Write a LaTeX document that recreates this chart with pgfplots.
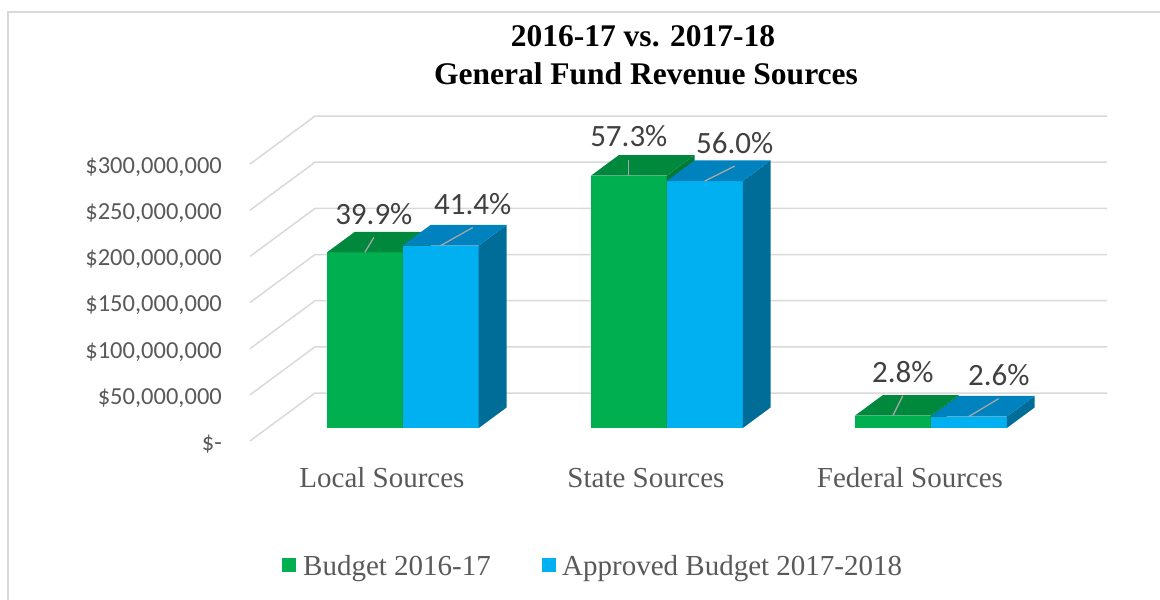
\documentclass[border=0pt]{standalone}
\usepackage{pgfplots}
\pgfplotsset{compat=1.18}
\usepackage{fontspec}
\setmainfont{Liberation Serif}
\newfontfamily\calib{Carlito}
\usetikzlibrary{calc}

\definecolor{gfront}{HTML}{00B050}
\definecolor{gtop}{HTML}{00883C}
\definecolor{gside}{HTML}{007A35}
\definecolor{bfront}{HTML}{00B0F0}
\definecolor{btop}{HTML}{0082BE}
\definecolor{bside}{HTML}{006D99}
\definecolor{gridc}{HTML}{D9D9D9}
\definecolor{txt}{HTML}{595959}
\definecolor{lbl}{HTML}{404040}
\definecolor{leader}{HTML}{A6A6A6}

% x-left, x-right, value, front, top, side
\newcommand{\cuboid}[6]{%
 \addplot3[fill=#4,draw=none] coordinates {(#1,0.27,0) (#2,0.27,0) (#2,0.27,#3) (#1,0.27,#3)};
 \addplot3[fill=#6,draw=none] coordinates {(#2,0.27,0) (#2,0.70,0) (#2,0.70,#3) (#2,0.27,#3)};
 \addplot3[fill=#5,draw=none] coordinates {(#1,0.27,#3) (#2,0.27,#3) (#2,0.70,#3) (#1,0.70,#3)};
}
\tikzset{
  ylab/.style={anchor=east, xshift=-28pt, yshift=-3pt, inner sep=0pt, text=txt, font={\calib\fontsize{24.5}{28}\selectfont}},
  dlab/.style={anchor=base, yshift=13pt, inner sep=0pt, text=lbl, font={\calib\fontsize{31}{36}\selectfont}},
  lead/.style={draw=leader, line width=1.3pt},
  gline/.style={draw=gridc, line width=1.5pt},
}

\begin{document}
\begin{tikzpicture}
\begin{axis}[
  hide axis, clip=false,
  x={(264pt,0pt)}, y={(65pt,48pt)}, z={(0pt,0.923pt)},
  xmin=0, xmax=3, ymin=0, ymax=1, zmin=0, zmax=300,
]
\coordinate (O) at (axis cs:0,0,0);
% gridlines (floor diagonal + back wall)
\pgfplotsinvokeforeach{0,50,100,150,200,250,300}{
  \draw[gline] (axis cs:0,0,#1) -- (axis cs:0,1,#1) -- (axis cs:3,1,#1);
}
\node[ylab] at (axis cs:0,0,300) {\$300,000,000};
\node[ylab] at (axis cs:0,0,250) {\$250,000,000};
\node[ylab] at (axis cs:0,0,200) {\$200,000,000};
\node[ylab] at (axis cs:0,0,150) {\$150,000,000};
\node[ylab] at (axis cs:0,0,100) {\$100,000,000};
\node[ylab] at (axis cs:0,0,50) {\$50,000,000};
\node[ylab] at (axis cs:0,0,0) {\$-};

% bars (values in millions of dollars)
\cuboid{0.225}{0.512}{190.3}{gfront}{gtop}{gside}
\cuboid{0.512}{0.800}{197.7}{bfront}{btop}{bside}
\cuboid{1.225}{1.512}{273.4}{gfront}{gtop}{gside}
\cuboid{1.512}{1.800}{267.6}{bfront}{btop}{bside}
\cuboid{2.225}{2.512}{13.4}{gfront}{gtop}{gside}
\cuboid{2.512}{2.800}{12.4}{bfront}{btop}{bside}

% data labels
\draw[lead] (axis cs:0.3685,0.27,190.3) -- ++(9pt,15pt) node[dlab] {39.9\%};
\draw[lead] (axis cs:0.656,0.27,197.7) -- ++(32pt,18pt) node[dlab] {41.4\%};
\draw[lead] (axis cs:1.3685,0.27,273.4) -- ++(0pt,16pt) node[dlab] {57.3\%};
\draw[lead] (axis cs:1.656,0.27,267.6) -- ++(30pt,15pt) node[dlab] {56.0\%};
\draw[lead] (axis cs:2.3685,0.27,13.4) -- ++(10pt,20pt) node[dlab] {2.8\%};
\draw[lead] (axis cs:2.656,0.27,12.4) -- ++(30pt,18pt) node[dlab] {2.6\%};

% category labels
\node[anchor=base, yshift=-46pt, text=txt, inner sep=0pt, font=\fontsize{29}{34}\selectfont] at (axis cs:0.5,0,0) {Local Sources};
\node[anchor=base, yshift=-46pt, text=txt, inner sep=0pt, font=\fontsize{29}{34}\selectfont] at (axis cs:1.5,0,0) {State Sources};
\node[anchor=base, yshift=-46pt, text=txt, inner sep=0pt, font=\fontsize{29}{34}\selectfont] at (axis cs:2.5,0,0) {Federal Sources};
\end{axis}

\begin{scope}[shift={(O)}, xshift=-250pt, yshift=-159pt]
  % chart frame
  \draw[gridc, line width=1.5pt] (8pt,-2pt) -- (8pt,588pt) -- (1162pt,588pt);
  % title
  \node[anchor=base, inner sep=0pt, font=\bfseries\fontsize{31.5}{36}\selectfont] at (643pt,553pt) {2016-17 vs. 2017-18};
  \node[anchor=base, inner sep=0pt, font=\bfseries\fontsize{31.5}{36}\selectfont] at (646pt,515pt) {General Fund Revenue Sources};
  % legend
  \fill[gfront] (282pt,28pt) rectangle (296pt,42pt);
  \node[anchor=base west, inner sep=0pt, text=txt, font=\fontsize{29}{34}\selectfont] at (303pt,25pt) {Budget 2016-17};
  \fill[bfront] (542pt,28pt) rectangle (556pt,42pt);
  \node[anchor=base west, inner sep=0pt, text=txt, font=\fontsize{29}{34}\selectfont] at (562pt,25pt) {Approved Budget 2017-2018};
  \pgfresetboundingbox
  \path[use as bounding box] (0pt,0pt) rectangle (1160pt,600pt);
\end{scope}
\end{tikzpicture}
\end{document}
